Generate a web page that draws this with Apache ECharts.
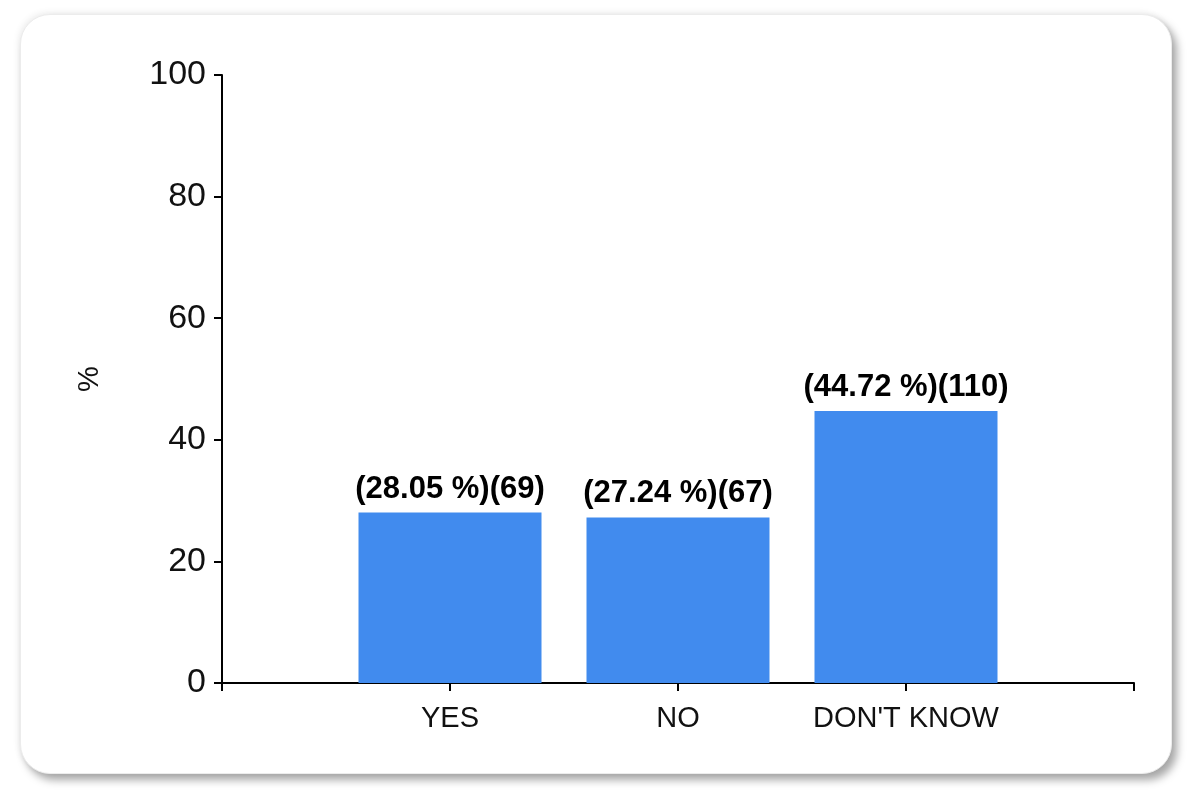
<!DOCTYPE html>
<html>
<head>
<meta charset="utf-8">
<script src="https://cdn.jsdelivr.net/npm/echarts@6/dist/echarts.min.js"></script>
<style>
  html, body { margin: 0; padding: 0; background: #ffffff; width: 1197px; height: 792px; overflow: hidden; }
  #panel { position: absolute; left: 20px; top: 14px; width: 1150px; height: 758px; background: #fff;
           border-radius: 30px; border: 1px solid #ececec;
           box-shadow: 5px 6px 8px rgba(0,0,0,0.35), -2px -2px 6px rgba(0,0,0,0.06); }
  #chart { position: absolute; left: 0; top: 0; width: 1197px; height: 792px; }
</style>
</head>
<body>
<div id="panel"></div>
<div id="chart"></div>
<script>
const categories = ['YES', 'NO', "DON'T KNOW"];
const percents = [28.05, 27.24, 44.72];
const counts = [69, 67, 110];
const yTicks = [0, 20, 40, 60, 80, 100];

const axisData = [''].concat(categories).concat(['']);
const seriesData = [null].concat(percents.map((v, i) => ({ value: v, count: counts[i] }))).concat([null]);

const regular = '"Liberation Sans", Arial, sans-serif';

const chart = echarts.init(document.getElementById('chart'), null, { renderer: 'canvas' });
chart.setOption({
  backgroundColor: 'transparent',
  animation: false,
  grid: { left: 222, right: 63, top: 75, bottom: 109, containLabel: false },
  xAxis: {
    type: 'category',
    data: axisData,
    boundaryGap: false,
    axisLine: { lineStyle: { color: '#000', width: 2 } },
    axisTick: { show: true, length: 8, lineStyle: { color: '#000', width: 2 }, interval: 0 },
    axisLabel: { interval: 0, margin: 21, color: '#111', fontSize: 29, fontFamily: regular },
    splitLine: { show: false }
  },
  yAxis: {
    type: 'value',
    min: yTicks[0], max: yTicks[yTicks.length - 1], interval: 20,
    name: '%',
    nameLocation: 'middle',
    nameGap: 118,
    nameRotate: 90,
    nameTextStyle: { color: '#111', fontSize: 29, fontFamily: regular },
    axisLine: { show: true, lineStyle: { color: '#000', width: 2 } },
    axisTick: { show: true, length: 8, lineStyle: { color: '#000', width: 2 } },
    axisLabel: { margin: 16, color: '#111', fontSize: 34, fontFamily: regular },
    splitLine: { show: false }
  },
  series: [{
    type: 'bar',
    data: seriesData,
    barWidth: 183,
    itemStyle: { color: '#418BEE' },
    label: {
      show: true,
      position: 'top',
      distance: 8,
      color: '#000',
      fontWeight: 'bold',
      fontSize: 31,
      fontFamily: regular,
      formatter: p => '(' + p.value.toFixed(2) + ' %)(' + p.data.count + ')'
    }
  }]
});
</script>
</body>
</html>
